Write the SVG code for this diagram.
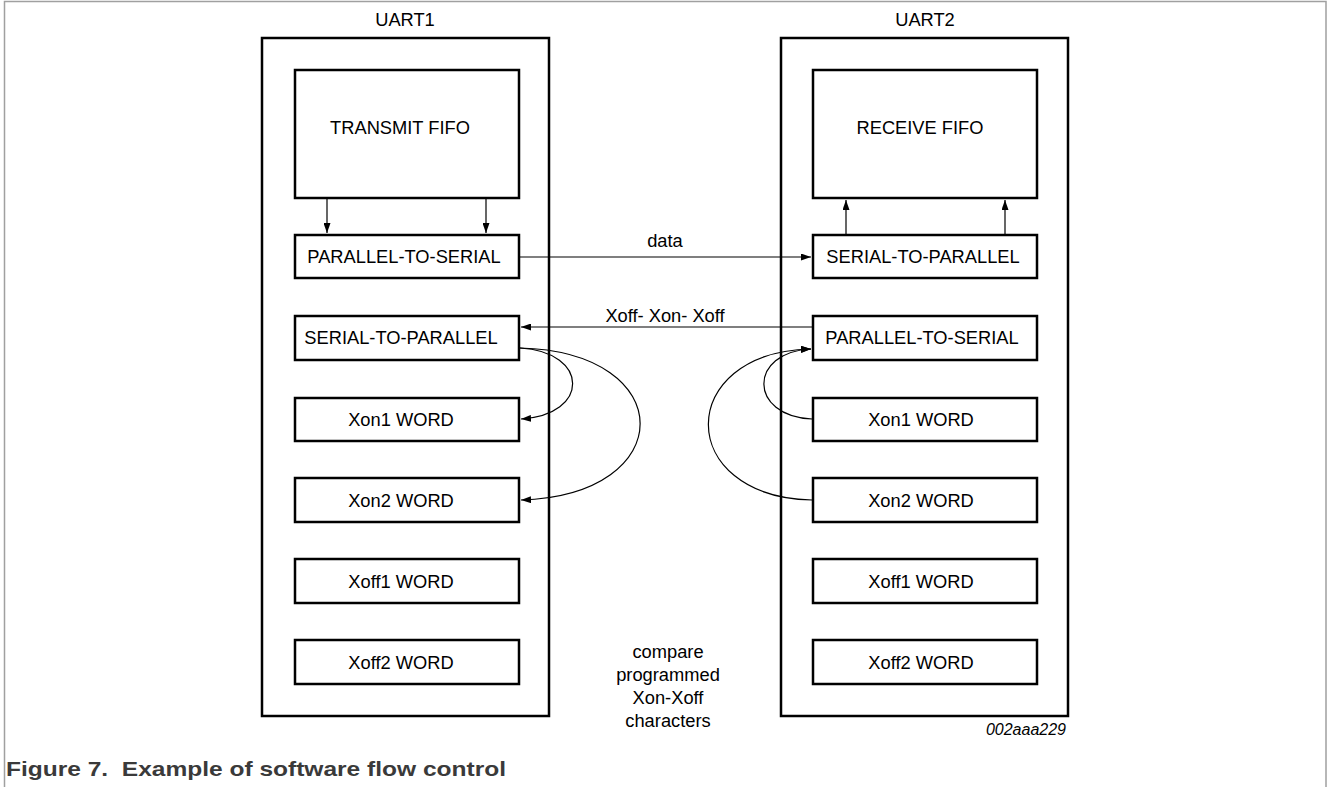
<svg xmlns="http://www.w3.org/2000/svg" width="1328" height="787" viewBox="0 0 1328 787">
<style>
.box{fill:#fff;stroke:#000;stroke-width:2.5}
.outer{fill:none;stroke:#000;stroke-width:2.5}
.t{font-family:"Liberation Sans",Arial,sans-serif;font-size:18.3px;fill:#000;text-anchor:middle}
.c{fill:none;stroke:#000;stroke-width:1.2}
.frame{fill:none;stroke:#a0a0a0;stroke-width:1.5}
</style>
<defs>
<marker id="ah" markerWidth="10" markerHeight="7" refX="10" refY="3.5" orient="auto" markerUnits="userSpaceOnUse">
<path d="M0,0 L10,3.5 L0,7 z" fill="#000"/>
</marker>
</defs>
<rect width="1328" height="787" fill="#fff"/>
<g id="frame">
<polyline class="frame" points="4.5,787 4.5,1.5 1326,1.5 1326,787"/>
</g>
<g id="uart1">
<text class="t" x="405" y="26">UART1</text>
<rect class="outer" x="262" y="38" width="287" height="678"/>
</g>
<g id="uart2">
<text class="t" x="925" y="26">UART2</text>
<rect class="outer" x="781" y="38" width="287" height="678"/>
</g>
<g id="transmit-fifo">
<rect class="box" x="295" y="70" width="224" height="128"/>
<text class="t" x="400" y="134">TRANSMIT FIFO</text>
</g>
<g id="l-p2s">
<rect class="box" x="295" y="235" width="224" height="43"/>
<text class="t" x="404" y="263">PARALLEL-TO-SERIAL</text>
</g>
<g id="l-s2p">
<rect class="box" x="295" y="316" width="224" height="44"/>
<text class="t" x="401" y="344">SERIAL-TO-PARALLEL</text>
</g>
<g id="l-xon1">
<rect class="box" x="295" y="398" width="224" height="43"/>
<text class="t" x="401" y="426">Xon1 WORD</text>
</g>
<g id="l-xon2">
<rect class="box" x="295" y="478" width="224" height="44"/>
<text class="t" x="401" y="507">Xon2 WORD</text>
</g>
<g id="l-xoff1">
<rect class="box" x="295" y="559" width="224" height="44"/>
<text class="t" x="401" y="588">Xoff1 WORD</text>
</g>
<g id="l-xoff2">
<rect class="box" x="295" y="640" width="224" height="44"/>
<text class="t" x="401" y="669">Xoff2 WORD</text>
</g>
<g id="receive-fifo">
<rect class="box" x="813" y="70" width="224" height="128"/>
<text class="t" x="920" y="134">RECEIVE FIFO</text>
</g>
<g id="r-s2p">
<rect class="box" x="813" y="235" width="224" height="43"/>
<text class="t" x="923" y="263">SERIAL-TO-PARALLEL</text>
</g>
<g id="r-p2s">
<rect class="box" x="813" y="316" width="224" height="44"/>
<text class="t" x="922" y="344">PARALLEL-TO-SERIAL</text>
</g>
<g id="r-xon1">
<rect class="box" x="813" y="398" width="224" height="43"/>
<text class="t" x="921" y="426">Xon1 WORD</text>
</g>
<g id="r-xon2">
<rect class="box" x="813" y="478" width="224" height="44"/>
<text class="t" x="921" y="507">Xon2 WORD</text>
</g>
<g id="r-xoff1">
<rect class="box" x="813" y="559" width="224" height="44"/>
<text class="t" x="921" y="588">Xoff1 WORD</text>
</g>
<g id="r-xoff2">
<rect class="box" x="813" y="640" width="224" height="44"/>
<text class="t" x="921" y="669">Xoff2 WORD</text>
</g>
<g id="connectors">
<line class="c" x1="327" y1="199" x2="327" y2="233" marker-end="url(#ah)"/>
<line class="c" x1="486" y1="199" x2="486" y2="233" marker-end="url(#ah)"/>
<line class="c" x1="846" y1="234" x2="846" y2="200" marker-end="url(#ah)"/>
<line class="c" x1="1005" y1="234" x2="1005" y2="200" marker-end="url(#ah)"/>
<line class="c" x1="520" y1="257" x2="811" y2="257" marker-end="url(#ah)"/>
<line class="c" x1="812" y1="327" x2="521" y2="327" marker-end="url(#ah)"/>
<path class="c" d="M520,348 C590,352 590,415 521,419" marker-end="url(#ah)"/>
<path class="c" d="M520,348 C680,352 680,495 521,500" marker-end="url(#ah)"/>
<path class="c" d="M812,419 C748,416 748,352 811,349" marker-end="url(#ah)"/>
<path class="c" d="M812,500 C674,497 674,352 811,349" marker-end="url(#ah)"/>
</g>
<g id="labels">
<text class="t" x="665" y="247">data</text>
<text class="t" x="665" y="322">Xoff- Xon- Xoff</text>
<text class="t" x="668" y="658">compare</text>
<text class="t" x="668" y="681">programmed</text>
<text class="t" x="668" y="704">Xon-Xoff</text>
<text class="t" x="668" y="727">characters</text>
<text x="1066" y="735" style="font-family:'Liberation Sans',Arial,sans-serif;font-size:16px;font-style:italic;text-anchor:end;fill:#000">002aaa229</text>
<text x="6" y="776" textLength="500" lengthAdjust="spacingAndGlyphs" style="font-family:'Liberation Sans',Arial,sans-serif;font-size:21px;font-weight:bold;fill:#3a3a3a" xml:space="preserve">Figure 7.  Example of software flow control</text>
</g>
</svg>
